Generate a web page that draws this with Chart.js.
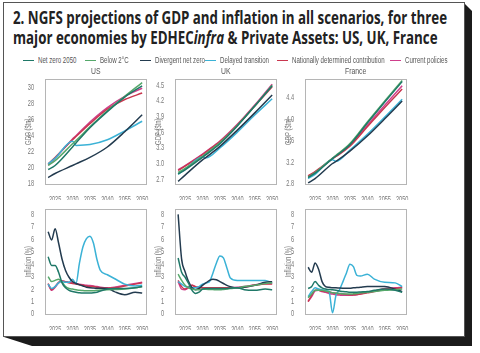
<!DOCTYPE html>
<html>
<head>
<meta charset="utf-8">
<script src="https://cdn.jsdelivr.net/npm/chart.js@4.4.0/dist/chart.umd.min.js"></script>
<style>
  body { margin: 0; width: 480px; height: 353px; background: #fff; position: relative; overflow: hidden; }
  #shadow { position: absolute; left: 0; top: 0; width: 480px; height: 353px; background: #1b1b1b;
    clip-path: polygon(464px 3px, 472px 11px, 472px 346px, 32px 346px, 4px 337px); }
  #card { position: absolute; left: 3px; top: 2px; width: 462px; height: 335px; background: #fff;
    border: 1px solid #555; box-sizing: border-box; }
  #title { position: absolute; left: 13px; top: 7px; margin: 0; font: 700 18px/20px "Open Sans", sans-serif; color: #222;
    white-space: nowrap; transform-origin: 0 0; }
  .lg, .pt { position: absolute; white-space: nowrap; font: 8.5px "Liberation Sans", sans-serif; color: #555; transform-origin: 0 0; transform: scaleX(0.72); }
  .sw { position: absolute; width: 11px; height: 0; border-top: 1.6px solid; top: 60px; }
  canvas { position: absolute; }
</style>
</head>
<body>
<div id="shadow"></div>
<div id="card"></div>
<h1 id="title"><span id="t1">2. NGFS projections of GDP and inflation in all scenarios, for three</span><br>major economies by EDHEC<i>infra</i> &amp; Private Assets: US, UK, France</h1>
<canvas id="c0"></canvas><canvas id="c1"></canvas><canvas id="c2"></canvas>
<canvas id="c3"></canvas><canvas id="c4"></canvas><canvas id="c5"></canvas>
<script>
// scenario order used by every row array below
const scenarios = ["Net zero 2050", "Below 2°C", "Divergent net zero", "Delayed transition", "Nationally determined contribution", "Current policies"];
const colors = ["#1f7868", "#55a86a", "#233b4f", "#3bb2d6", "#c9374f", "#cf3f8c"];
const legendX = [23, 85, 140, 205, 277, 390];
const panelTitles = ["US", "UK", "France"];

const xTicks = [2025, 2030, 2035, 2040, 2045, 2050];
const xTickLabels = ["2025", "2030", "2035", "2040", "2055", "2050"];

const gdpYears = [2023, 2025, 2030, 2031, 2035, 2040, 2045, 2050];
const inflYears = [2023, 2024, 2025, 2026, 2027, 2028, 2029, 2030, 2031, 2032, 2033, 2034, 2035, 2036, 2037, 2038, 2040, 2042, 2045, 2048, 2050];

const usGdp = [
  [19.8, 20.3, 22.6, 23.1, 25.0, 27.0, 28.8, 30.2],
  [20.3, 20.9, 23.0, 23.4, 25.1, 27.1, 28.9, 30.6],
  [18.8, 19.3, 20.3, 20.5, 21.3, 22.6, 24.5, 26.6],
  [20.5, 21.2, 23.3, 22.8, 22.9, 23.5, 24.6, 25.8],
  [20.5, 21.3, 23.5, 23.9, 25.5, 27.3, 28.5, 29.3],
  [20.4, 21.2, 23.6, 24.0, 25.7, 27.5, 28.9, 29.9]
];
const ukGdp = [
  [2.80, 2.88, 3.12, 3.17, 3.38, 3.72, 4.10, 4.49],
  [2.83, 2.91, 3.14, 3.19, 3.40, 3.73, 4.10, 4.50],
  [2.66, 2.78, 3.07, 3.12, 3.33, 3.64, 3.97, 4.31],
  [2.80, 2.89, 3.13, 3.11, 3.30, 3.60, 3.93, 4.24],
  [2.87, 2.95, 3.17, 3.22, 3.42, 3.74, 4.10, 4.47],
  [2.88, 2.96, 3.18, 3.23, 3.43, 3.75, 4.12, 4.52]
];
const frGdp = [
  [2.92, 3.00, 3.27, 3.32, 3.53, 3.93, 4.32, 4.70],
  [2.93, 3.01, 3.28, 3.33, 3.55, 3.95, 4.34, 4.72],
  [2.82, 2.90, 3.18, 3.22, 3.41, 3.69, 4.01, 4.34],
  [2.90, 2.98, 3.25, 3.22, 3.43, 3.72, 4.04, 4.37],
  [2.95, 3.03, 3.27, 3.31, 3.50, 3.86, 4.22, 4.56],
  [2.94, 3.02, 3.27, 3.32, 3.52, 3.89, 4.26, 4.62]
];

const usInfl = [
  [4.6, 3.9, 3.9, 3.35, 2.5, 2.1, 1.9, 1.8, 1.75, 1.7, 1.68, 1.68, 1.68, 1.7, 1.75, 1.85, 2.0, 2.05, 2.05, 2.1, 2.2],
  [3.0, 2.6, 2.7, 2.8, 2.55, 2.2, 2.05, 2.0, 1.95, 1.9, 1.88, 1.86, 1.86, 1.87, 1.9, 1.92, 1.95, 1.97, 2.0, 2.1, 2.2],
  [6.6, 5.95, 6.85, 5.7, 4.4, 3.5, 2.95, 2.6, 2.45, 2.35, 2.25, 2.15, 2.1, 2.08, 2.07, 2.06, 2.05, 1.8, 1.55, 1.75, 1.68],
  [2.4, 2.05, 2.2, 2.5, 2.6, 2.55, 2.55, 2.8, 2.45, 4.1, 5.4, 6.05, 6.25, 5.7, 4.4, 3.5, 3.15, 2.85, 2.4, 2.25, 2.3],
  [2.45, 1.95, 2.2, 2.55, 2.65, 2.6, 2.5, 2.45, 2.4, 2.35, 2.3, 2.25, 2.2, 2.2, 2.15, 2.1, 2.07, 2.1, 2.25, 2.4, 2.5],
  [2.4, 1.9, 2.15, 2.5, 2.65, 2.6, 2.55, 2.5, 2.45, 2.4, 2.35, 2.3, 2.28, 2.25, 2.2, 2.15, 2.1, 2.15, 2.3, 2.45, 2.55]
];
const ukInfl = [
  [4.5, 3.35, 2.95, 2.45, 1.9, 1.65, 1.75, 2.0, 2.05, 2.05, 2.05, 2.05, 2.05, 2.05, 2.05, 2.07, 2.1, 1.95, 1.9, 2.0, 1.95],
  [3.2, 2.7, 2.3, 2.1, 2.0, 1.95, 1.95, 2.0, 1.98, 1.97, 1.96, 1.95, 1.95, 1.97, 2.0, 2.05, 2.1, 2.2, 2.3, 2.45, 2.5],
  [8.0, 4.4, 3.4, 2.6, 2.1, 1.95, 2.05, 2.3, 2.5, 2.7, 2.8, 2.75, 2.6, 2.45, 2.3, 2.2, 2.1, 2.15, 2.3, 2.55, 2.6],
  [2.6, 2.4, 2.2, 2.15, 2.1, 2.1, 2.2, 2.4, 2.5, 2.6, 3.3, 4.1, 4.65, 4.5, 3.7, 2.9, 2.7, 2.7, 2.7, 2.7, 2.5],
  [2.7, 2.2, 2.0, 2.2, 2.3, 2.2, 2.15, 2.1, 2.1, 2.1, 2.1, 2.1, 2.1, 2.1, 2.1, 2.1, 2.1, 2.15, 2.3, 2.4, 2.4],
  [2.6, 2.0, 1.95, 2.1, 2.3, 2.15, 2.1, 2.1, 2.08, 2.06, 2.05, 2.05, 2.05, 2.07, 2.1, 2.12, 2.15, 2.2, 2.35, 2.45, 2.45]
];
const frInfl = [
  [2.05, 2.2, 2.6, 2.3, 2.1, 2.0, 1.97, 1.94, 1.9, 1.85, 1.8, 1.78, 1.75, 1.75, 1.75, 1.77, 1.8, 1.9, 2.0, 1.9, 1.75],
  [1.3, 1.6, 1.9, 1.9, 1.9, 1.85, 1.8, 1.7, 1.68, 1.65, 1.62, 1.6, 1.6, 1.62, 1.65, 1.7, 1.75, 1.8, 1.9, 1.95, 2.0],
  [3.75, 3.35, 4.1, 3.6, 2.6, 2.2, 2.15, 2.1, 2.1, 2.08, 2.07, 2.07, 2.07, 2.1, 2.12, 2.15, 2.2, 2.2, 2.2, 2.0, 1.8],
  [1.4, 1.8, 2.1, 2.0, 1.95, 1.9, 1.8, 0.1, 1.5, 1.95, 2.6, 3.3, 4.0, 3.8, 3.1, 3.05, 3.2, 2.8, 2.55, 2.5, 2.2],
  [1.0, 1.5, 1.9, 1.9, 1.85, 1.8, 1.75, 1.7, 1.65, 1.62, 1.6, 1.57, 1.55, 1.55, 1.57, 1.6, 1.7, 1.8, 2.0, 2.05, 2.1],
  [1.0, 1.4, 1.85, 1.9, 1.8, 1.75, 1.65, 1.6, 1.55, 1.52, 1.5, 1.5, 1.5, 1.52, 1.55, 1.6, 1.75, 1.85, 2.05, 2.1, 2.15]
];

const usGdpTicks = [18, 20, 22, 24, 26, 28, 30];
const ukGdpTicks = [2.7, 3.0, 3.3, 3.6, 3.9, 4.2, 4.5];
const frGdpTicks = [2.8, 3.2, 3.6, 4.0, 4.4];
const inflTicks = [0, 1, 2, 3, 4, 5, 6, 7, 8];

// squeeze the title so that its first line spans the card like the original
const t1 = document.getElementById("t1");
document.getElementById("title").style.transform = "scaleX(" + (434 / t1.getBoundingClientRect().width) + ")";

// legend and panel titles
scenarios.forEach((s, i) => {
  const sw = document.createElement("div");
  sw.className = "sw";
  sw.style.left = legendX[i] + "px";
  sw.style.borderColor = colors[i];
  document.body.appendChild(sw);
  const el = document.createElement("div");
  el.className = "lg";
  el.style.left = (legendX[i] + 15) + "px";
  el.style.top = "55px";
  el.textContent = s;
  document.body.appendChild(el);
});
panelTitles.forEach((t, i) => {
  const el = document.createElement("div");
  el.className = "pt";
  el.style.fontSize = "9.5px";
  el.textContent = t;
  document.body.appendChild(el);
  const w = el.getBoundingClientRect().width;
  el.style.left = (45 + 130 * i + 50.5 - w / 2) + "px";
  el.style.top = "65px";
});

const tickFont = { family: "'Liberation Sans', sans-serif", size: 9 };
const fillNative = CanvasRenderingContext2D.prototype.fillText;
const boxPlugin = {
  id: "box",
  beforeInit(chart) {
    // the original uses a condensed face: squeeze canvas text horizontally
    chart.ctx.fillText = function (t, x, y, mw) {
      const w = this.measureText(t).width * 0.62;
      fillNative.call(this, t, x, y, mw === undefined ? w : Math.min(w, mw));
    };
  },
  afterDraw(chart) {
    const a = chart.chartArea, c = chart.ctx;
    c.save();
    c.strokeStyle = "#b5b5b5";
    c.lineWidth = 1;
    c.strokeRect(Math.round(a.left) + 0.5, Math.round(a.top) + 0.5, Math.round(a.right - a.left), Math.round(a.bottom - a.top));
    c.restore();
  }
};

function panel(id, left, top, years, rows, yMin, yMax, yTicks, yTitle, dec) {
  const cv = document.getElementById(id);
  cv.width = 137; cv.height = 129;
  cv.style.left = (left - 27) + "px";
  cv.style.top = (top - 4) + "px";
  new Chart(cv, {
    type: "line",
    data: {
      datasets: rows.map((r, i) => ({
        label: scenarios[i],
        data: years.map((y, j) => ({ x: y, y: r[j] })),
        borderColor: colors[i],
        borderWidth: 1.5,
        pointRadius: 0,
        cubicInterpolationMode: "monotone",
        fill: false
      }))
    },
    options: {
      responsive: false,
      animation: false,
      devicePixelRatio: 1,
      layout: { padding: { top: 4, right: 9, left: 0, bottom: 0 } },
      plugins: { legend: { display: false }, tooltip: { enabled: false } },
      scales: {
        x: {
          type: "linear", min: 2022.1, max: 2051.1,
          afterBuildTicks: s => { s.ticks = xTicks.map(v => ({ value: v })); },
          afterFit: s => { s.height = 16; },
          ticks: { callback: (v, i) => xTickLabels[i], autoSkip: false, maxRotation: 0, font: tickFont, color: "#777", padding: 2 },
          grid: { display: false },
          border: { display: false }
        },
        y: {
          min: yMin, max: yMax,
          afterBuildTicks: s => { s.ticks = yTicks.map(v => ({ value: v })); },
          afterFit: s => { s.width = 27; },
          ticks: { callback: v => v.toFixed(dec), autoSkip: false, font: tickFont, color: "#777", padding: 3 },
          title: { display: true, text: yTitle, font: { family: tickFont.family, size: 9.5 }, color: "#808080", padding: { top: 5, bottom: 0 } },
          grid: { display: false },
          border: { display: false }
        }
      }
    },
    plugins: [boxPlugin]
  });
}

panel("c0", 45, 75, gdpYears, usGdp, 18, 31, usGdpTicks, "GDP ($tn)", 0);
panel("c1", 175, 75, gdpYears, ukGdp, 2.61, 4.61, ukGdpTicks, "GDP ($tn)", 1);
panel("c2", 305, 75, gdpYears, frGdp, 2.8, 4.74, frGdpTicks, "GDP ($tn)", 1);
panel("c3", 45, 205, inflYears, usInfl, 0, 8.4, inflTicks, "Inflation (%)", 0);
panel("c4", 175, 205, inflYears, ukInfl, 0, 8.4, inflTicks, "Inflation (%)", 0);
panel("c5", 305, 205, inflYears, frInfl, 0, 8.4, inflTicks, "Inflation (%)", 0);
</script>
</body>
</html>
